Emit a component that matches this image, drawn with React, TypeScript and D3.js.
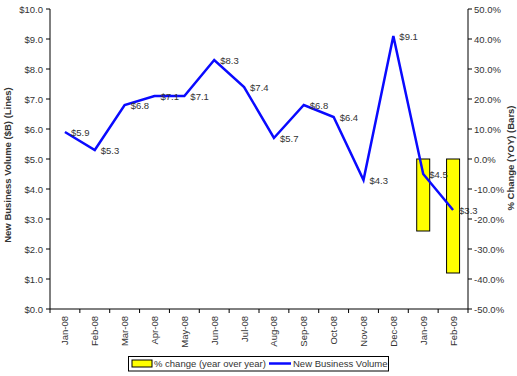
import React from "react";
import * as d3 from "d3";

const categories = ["Jan-08","Feb-08","Mar-08","Apr-08","May-08","Jun-08","Jul-08","Aug-08","Sep-08","Oct-08","Nov-08","Dec-08","Jan-09","Feb-09"];
const volume = [5.9, 5.3, 6.8, 7.1, 7.1, 8.3, 7.4, 5.7, 6.8, 6.4, 4.3, 9.1, 4.5, 3.3];
const pctChange: (number | null)[] = [null, null, null, null, null, null, null, null, null, null, null, null, -24, -38];
const leftTicks = [0, 1, 2, 3, 4, 5, 6, 7, 8, 9, 10];
const rightTicks = [-50, -40, -30, -20, -10, 0, 10, 20, 30, 40, 50];

const W = 517, H = 376;
const L = 50, R = 468, T = 9, B = 309;
const FONT = "Liberation Sans, Arial, Helvetica, sans-serif";
const TXT = "#333";

export default function App() {
  const xb = d3.scaleBand<string>().domain(categories).range([L, R]);
  const yL = d3.scaleLinear().domain([0, 10]).range([B, T]);
  const yR = d3.scaleLinear().domain([-50, 50]).range([B, T]);
  const cx = (c: string) => (xb(c) as number) + xb.bandwidth() / 2;
  const line = d3.line<number>().x((_, i) => cx(categories[i])).y((d) => yL(d));

  return (
    <svg width={W} height={H} style={{ position: "absolute", left: 0, top: 0, fontFamily: FONT }}>
      <rect x={0} y={0} width={W} height={H} fill="#fff" />
      {/* bars */}
      {pctChange.map((v, i) =>
        v == null ? null : (
          <rect key={i} x={cx(categories[i]) - 6.5} width={13}
            y={yR(Math.max(0, v))} height={Math.abs(yR(v) - yR(0))}
            fill="#ffff00" stroke="#000" strokeWidth={1} />
        )
      )}
      {/* line */}
      <path d={line(volume) || ""} fill="none" stroke="#0a0aff" strokeWidth={2.5} strokeLinejoin="miter" />
      {volume.map((v, i) => (
        <text key={i} x={cx(categories[i]) + 6} y={yL(v) + 4} fontSize={9.5} fill={TXT}>${v.toFixed(1)}</text>
      ))}
      {/* left axis */}
      <line x1={L} x2={L} y1={T} y2={B} stroke="#000" />
      {leftTicks.map((t) => (
        <g key={t}>
          <line x1={L - 4} x2={L} y1={yL(t)} y2={yL(t)} stroke="#000" />
          <text x={L - 7} y={yL(t) + 3.5} fontSize={9.5} textAnchor="end" fill={TXT}>${t.toFixed(1)}</text>
        </g>
      ))}
      {/* right axis */}
      <line x1={R} x2={R} y1={T} y2={B} stroke="#000" />
      {rightTicks.map((t) => (
        <g key={t}>
          <line x1={R} x2={R + 4} y1={yR(t)} y2={yR(t)} stroke="#000" />
          <text x={R + 6} y={yR(t) + 3.5} fontSize={9.5} textAnchor="start" fill={TXT}>{t.toFixed(1)}%</text>
        </g>
      ))}
      {/* x axis */}
      <line x1={L} x2={R} y1={B} y2={B} stroke="#000" />
      {categories.map((c, i) => (
        <line key={"t" + i} x1={xb(c) as number} x2={xb(c) as number} y1={B} y2={B + 4} stroke="#000" />
      ))}
      <line x1={R} x2={R} y1={B} y2={B + 4} stroke="#000" />
      {categories.map((c) => (
        <text key={c} transform={`translate(${cx(c) + 3.5},${B + 7}) rotate(-90)`} fontSize={9.5} textAnchor="end" fill={TXT}>{c}</text>
      ))}
      {/* axis titles */}
      <text transform={`translate(11,165) rotate(-90)`} fontSize={9.5} fontWeight="bold" textAnchor="middle" fill={TXT}>New Business Volume ($B) (Lines)</text>
      <text transform={`translate(514,158) rotate(-90)`} fontSize={9.5} fontWeight="bold" textAnchor="middle" fill={TXT}>% Change (YOY) (Bars)</text>
      {/* legend */}
      <rect x={128.5} y={356.5} width={260} height={14.5} fill="#fff" stroke="#000" />
      <rect x={132} y={360} width={20} height={7} fill="#ffff00" stroke="#000" />
      <text x={154} y={367} fontSize={9.5} fill={TXT}>% change (year over year)</text>
      <line x1={269} x2={291} y1={363.5} y2={363.5} stroke="#0a0aff" strokeWidth={2.5} />
      <text x={293} y={367} fontSize={9.5} fill={TXT}>New Business Volume</text>
    </svg>
  );
}
